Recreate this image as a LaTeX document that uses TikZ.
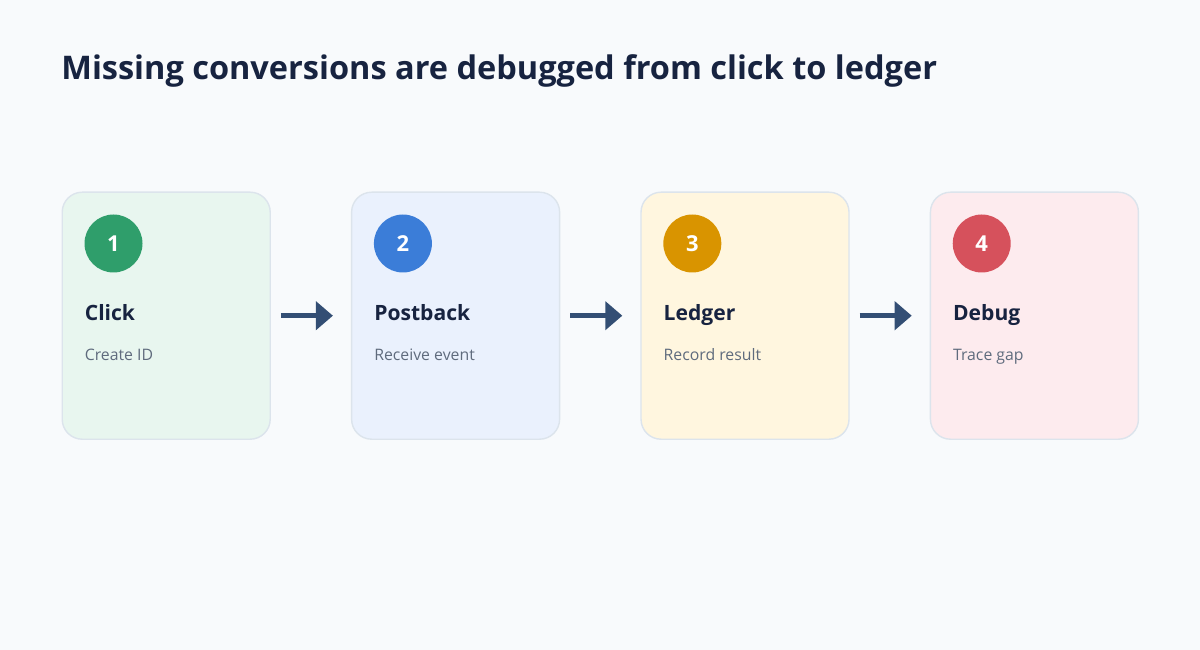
\documentclass[tikz,border=0pt]{standalone}
\usepackage{fontspec}
\setmainfont{Open Sans}
\usepackage{xcolor}
\usepackage{tikz}
\usetikzlibrary{arrows.meta,positioning}

\definecolor{bgcol}{HTML}{F8FAFC}
\definecolor{inkcol}{HTML}{172340}
\definecolor{subcol}{HTML}{5F6B7D}
\definecolor{edgecol}{HTML}{DCE4EC}
\definecolor{arrowcol}{HTML}{334E74}
\definecolor{greenfill}{HTML}{E8F6EF}
\definecolor{bluefill}{HTML}{EAF1FD}
\definecolor{amberfill}{HTML}{FFF6DF}
\definecolor{redfill}{HTML}{FDEBEE}
\definecolor{greendot}{HTML}{2F9E6B}
\definecolor{bluedot}{HTML}{3B7DD8}
\definecolor{amberdot}{HTML}{D99400}
\definecolor{reddot}{HTML}{D6515C}

\begin{document}
\begin{tikzpicture}[
    node distance=1.6cm,
    card/.style={rectangle, draw=edgecol, line width=0.8pt, rounded corners=0.4cm, minimum width=4.16cm, minimum height=4.94cm, inner sep=0pt},
    badge/.style={circle, minimum size=1.16cm, inner sep=0pt, text=white, font=\fontsize{12.5}{14}\selectfont\bfseries},
    steptitle/.style={anchor=base west, inner sep=0pt, text=inkcol, font=\fontsize{12}{14}\selectfont\bfseries},
    stepnote/.style={anchor=base west, inner sep=0pt, text=subcol, font=\fontsize{9}{11}\selectfont},
    arrow/.style={-{Triangle[length=0.34cm, width=0.56cm]}, line width=0.1cm, draw=arrowcol}
]

% Background
\fill[bgcol] (0,0) rectangle (24,-13);
\useasboundingbox (0,0) rectangle (24,-13);

% Heading
\node[anchor=base west, inner sep=0pt, text=inkcol, font=\fontsize{18.5}{22}\selectfont\bfseries] (heading) at (1.22,-1.6) {Missing conversions are debugged from click to ledger};

% Cards
\node[card, fill=greenfill, anchor=north west] (click) at (1.23,-3.83) {};
\node[card, fill=bluefill, right=of click] (postback) {};
\node[card, fill=amberfill, right=of postback] (ledger) {};
\node[card, fill=redfill, right=of ledger] (debug) {};

% Badges
\node[badge, fill=greendot] (n1) at ([xshift=1.04cm, yshift=-1.04cm]click.north west) {1};
\node[badge, fill=bluedot] (n2) at ([xshift=1.04cm, yshift=-1.04cm]postback.north west) {2};
\node[badge, fill=amberdot] (n3) at ([xshift=1.04cm, yshift=-1.04cm]ledger.north west) {3};
\node[badge, fill=reddot] (n4) at ([xshift=1.04cm, yshift=-1.04cm]debug.north west) {4};

% Titles and notes
\node[steptitle] (t1) at ([xshift=0.46cm, yshift=-2.58cm]click.north west) {Click};
\node[stepnote] (s1) at ([xshift=0.46cm, yshift=-3.38cm]click.north west) {Create ID};
\node[steptitle] (t2) at ([xshift=0.46cm, yshift=-2.58cm]postback.north west) {Postback};
\node[stepnote] (s2) at ([xshift=0.46cm, yshift=-3.38cm]postback.north west) {Receive event};
\node[steptitle] (t3) at ([xshift=0.46cm, yshift=-2.58cm]ledger.north west) {Ledger};
\node[stepnote] (s3) at ([xshift=0.46cm, yshift=-3.38cm]ledger.north west) {Record result};
\node[steptitle] (t4) at ([xshift=0.46cm, yshift=-2.58cm]debug.north west) {Debug};
\node[stepnote] (s4) at ([xshift=0.46cm, yshift=-3.38cm]debug.north west) {Trace gap};

% Edges
\draw[arrow] ([xshift=0.2cm]click.east) -- ([xshift=-0.36cm]postback.west);
\draw[arrow] ([xshift=0.2cm]postback.east) -- ([xshift=-0.36cm]ledger.west);
\draw[arrow] ([xshift=0.2cm]ledger.east) -- ([xshift=-0.36cm]debug.west);

\end{tikzpicture}
\end{document}
